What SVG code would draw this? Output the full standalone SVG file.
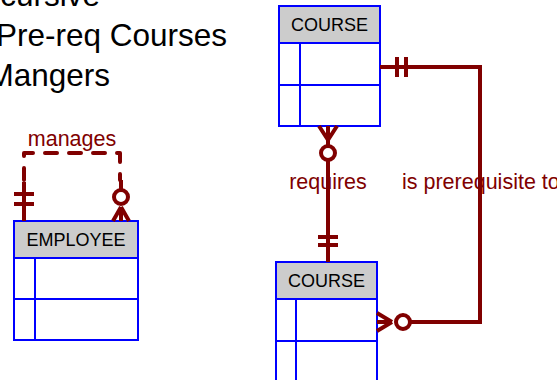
<svg xmlns="http://www.w3.org/2000/svg" width="557" height="380" viewBox="0 0 557 380">
<style>
.title{font-family:"Liberation Sans",Arial,sans-serif;font-size:31.5px;fill:#000}
.box{fill:#fff;stroke:#0000ff;stroke-width:2}
.hdr{fill:#cccccc;stroke:#0000ff;stroke-width:2}
.ln{stroke:#0000ff;stroke-width:2;fill:none}
.ename{font-family:"Liberation Sans",Arial,sans-serif;font-size:18px;fill:#000;text-anchor:middle}
.rel{stroke:#800000;stroke-width:4;fill:none;stroke-linecap:butt}
.dash{stroke:#800000;stroke-width:4;fill:none;stroke-linecap:round;stroke-linejoin:round;stroke-dasharray:12 12}
.circ{stroke:#800000;stroke-width:4;fill:#fff}
.lbl{font-family:"Liberation Sans",Arial,sans-serif;font-size:21.5px;fill:#800000}
</style>
<g id="title">
<text class="title" x="100" y="6" text-anchor="end">Recursive</text>
<text class="title" x="227" y="46" text-anchor="end">Pre-req Courses</text>
<text class="title" x="110" y="86" text-anchor="end">Mangers</text>
</g>
<g id="employee">
<rect class="box" x="14" y="221" width="124" height="119"/>
<rect class="hdr" x="14" y="221" width="124" height="37"/>
<line class="ln" x1="14" y1="299" x2="138" y2="299"/>
<line class="ln" x1="35" y1="258" x2="35" y2="340"/>
<text class="ename" x="76" y="246">EMPLOYEE</text>
</g>
<g id="course-top">
<rect class="box" x="279" y="6" width="101" height="120"/>
<rect class="hdr" x="279" y="6" width="101" height="37"/>
<line class="ln" x1="279" y1="85" x2="380" y2="85"/>
<line class="ln" x1="300" y1="43" x2="300" y2="126"/>
<text class="ename" x="329.5" y="31">COURSE</text>
</g>
<g id="course-bottom">
<rect class="box" x="276" y="262" width="101" height="122"/>
<rect class="hdr" x="276" y="262" width="101" height="37"/>
<line class="ln" x1="276" y1="341" x2="377" y2="341"/>
<line class="ln" x1="296" y1="299" x2="296" y2="384"/>
<text class="ename" x="326.5" y="287">COURSE</text>
</g>
<g id="connectors">
<!-- manages -->
<path class="dash" d="M24,180 V153 H120 V180"/>
<path class="rel" d="M24,182 V221 M14,194 H34 M14,204 H34"/>
<path class="rel" d="M121,180 V189 M121,207 V221 M121,207 L113,221 M121,207 L129,221"/>
<circle class="circ" cx="121" cy="197" r="7"/>
<text class="lbl" x="72" y="146" text-anchor="middle">manages</text>
<!-- requires -->
<path class="rel" d="M328,126 V262 M318,237 H338 M318,245 H338 M328,140 L319,126 M328,140 L337,126"/>
<circle class="circ" cx="328" cy="153" r="7"/>
<text class="lbl" x="328" y="189" text-anchor="middle">requires</text>
<!-- is prerequisite to -->
<path class="rel" d="M380,67 H480 V322 H410 M397,57 V77 M406,57 V77"/>
<path class="rel" d="M377,322 H392 M392,322 L377,313 M392,322 L377,331"/>
<circle class="circ" cx="403" cy="322" r="7"/>
<text class="lbl" x="402" y="189">is prerequisite to</text>
</g>
</svg>
